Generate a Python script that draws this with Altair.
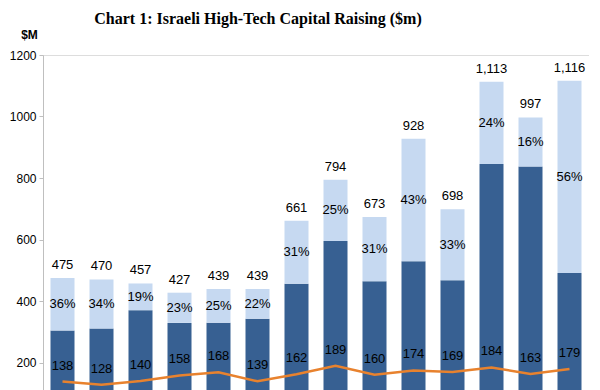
import altair as alt
import pandas as pd

periods = ["P1", "P2", "P3", "P4", "P5", "P6", "P7", "P8", "P9", "P10", "P11", "P12", "P13", "P14"]
totals = [475, 470, 457, 427, 439, 439, 661, 794, 673, 928, 698, 1113, 997, 1116]
pct_top = [36, 34, 19, 23, 25, 22, 31, 25, 31, 43, 33, 24, 16, 56]
line_vals = [138, 128, 140, 158, 168, 139, 162, 189, 160, 174, 169, 184, 163, 179]

df = pd.DataFrame({"period": periods, "total": totals, "pct": pct_top, "line": line_vals})

DARK = "#376092"
LIGHT = "#C6D9F1"
ORANGE = "#E8822E"
FONT = "Liberation Sans"

x = alt.X("period:N", sort=periods, axis=None,
          scale=alt.Scale(paddingInner=0, paddingOuter=0))
yscale = alt.Scale(domain=[0, 1200], nice=False)

base = alt.Chart(df).transform_calculate(
    dark="datum.total * (1 - datum.pct / 100)",
    mid="datum.total * (1 - datum.pct / 200)",
    pctlabel="datum.pct + '%'",
)

dark_bars = base.mark_bar(color=DARK, size=24).encode(
    x=x,
    y=alt.Y("dark:Q", scale=yscale,
            axis=alt.Axis(values=[200, 400, 600, 800, 1000, 1200], grid=False, format="d",
                          domainColor="#BFBFBF", tickColor="#BFBFBF", tickSize=4,
                          labelPadding=3, labelFont=FONT, labelFontSize=12,
                          labelColor="#000000", title="$M", titleAngle=0,
                          titleFont=FONT, titleFontSize=12, titleFontWeight="bold",
                          titleX=-14, titleY=-14, titleAlign="center",
                          titleBaseline="bottom")),
)

light_bars = base.mark_bar(color=LIGHT, size=24).encode(
    x=x, y=alt.Y("dark:Q", scale=yscale), y2="total:Q"
)

total_labels = base.mark_text(font=FONT, fontSize=13, baseline="bottom", dy=-6,
                              color="#000000").encode(
    x=x, y=alt.Y("total:Q", scale=yscale), text=alt.Text("total:Q", format=",d")
)

pct_labels = base.mark_text(font=FONT, fontSize=13, baseline="middle",
                            color="#000000").encode(
    x=x, y=alt.Y("mid:Q", scale=yscale), text="pctlabel:N"
)

line = base.mark_line(color=ORANGE, strokeWidth=2.5).encode(
    x=x, y=alt.Y("line:Q", scale=yscale)
)

line_labels = base.mark_text(font=FONT, fontSize=13, baseline="bottom", dy=-9,
                             color="#000000").encode(
    x=x, y=alt.Y("line:Q", scale=yscale), text="line:Q"
)

chart = alt.layer(dark_bars, light_bars, total_labels, pct_labels, line, line_labels).properties(
    width=546,
    height=369,
    autosize="none",
    padding={"left": 35, "top": 47, "right": 0, "bottom": 0},
    title=alt.TitleParams("Chart 1: Israeli High-Tech Capital Raising ($m)",
                          font="Liberation Serif", fontSize=16, fontWeight="bold",
                          anchor="start", dx=85, dy=3, color="#000000"),
).configure_view(stroke=None).configure(background="white")

chart.save("out.html", embed_options={"renderer": "svg", "actions": False})
